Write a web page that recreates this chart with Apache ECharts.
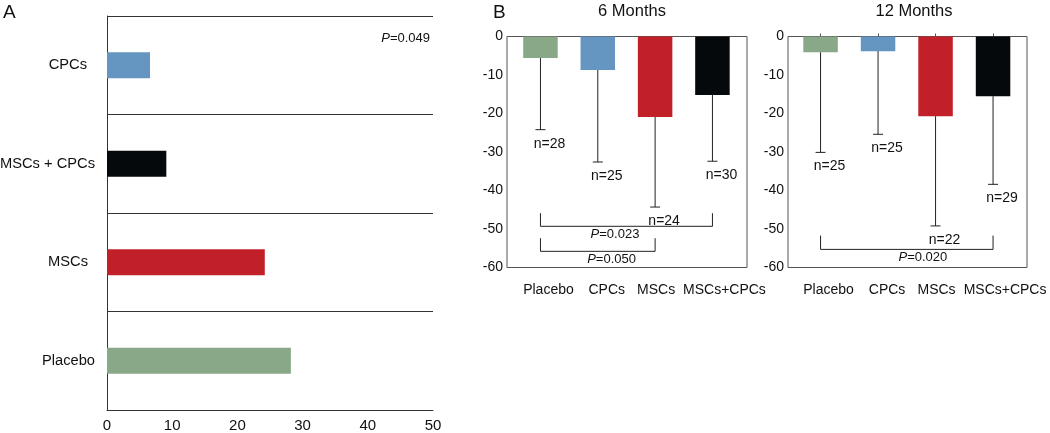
<!DOCTYPE html>
<html>
<head>
<meta charset="utf-8">
<script src="https://cdn.jsdelivr.net/npm/echarts@6/dist/echarts.min.js"></script>
<style>html,body{margin:0;padding:0;background:#fff}#c{width:1050px;height:433px}</style>
</head>
<body>
<div id="c"></div>
<script>
// ---------- DATA ----------
// Panel A (horizontal bars, bottom to top)
const catsA = ['Placebo', 'MSCs', 'MSCs + CPCs', 'CPCs'];
const valsA = [28.2, 24.2, 9.1, 6.6];
const ticksA = [0, 10, 20, 30, 40, 50];
const pA = '0.049';

// Panel B groups
const groupsB = ['Placebo', 'CPCs', 'MSCs', 'MSCs+CPCs'];
// 6 months
const mean6 = [-5.6, -8.7, -20.9, -15.2];
const sd6 = [18.6, 23.9, 23.4, 17.2];
const n6 = [28, 25, 24, 30];
// 12 months
const mean12 = [-4.1, -3.8, -20.7, -15.5];
const sd12 = [26.0, 21.6, 28.5, 22.9];
const n12 = [25, 25, 22, 29];
const ticksB = [0, -10, -20, -30, -40, -50, -60];

// significance brackets: group indices, bracket level, tick top, p-value, label position (data units)
const brackets6 = [
  { from: 0, to: 3, level: -49.3, top: -45.9, p: '0.023', lx: 1.30, ly: -51.4 },
  { from: 0, to: 2, level: -55.8, top: -52.4, p: '0.050', lx: 1.24, ly: -57.9 }
];
const brackets12 = [
  { from: 0, to: 3, level: -55.3, top: -51.7, p: '0.020', lx: 1.78, ly: -57.5 }
];

// ---------- STYLE ----------
const colorMap = {
  'Placebo': '#88a888',
  'CPCs': '#6596c1',
  'MSCs': '#c12029',
  'MSCs + CPCs': '#05090c',
  'MSCs+CPCs': '#05090c'
};
const FONT = '"Liberation Sans", Arial, sans-serif';
const TXT = '#111';
const LINE = '#333';
// label nudges (px) to mimic the reference's label placement
const padB = [16, 18, 2, 24];
const padA = [0, 7, 0, 8];

const chart = echarts.init(document.getElementById('c'), null, { renderer: 'canvas' });

function errRender(means, sds, ns) {
  return function (params, api) {
    const i = params.dataIndex;
    const m = means[i];
    const lo = m - sds[i];
    const p0 = api.coord([i, m]);
    const p1 = api.coord([i, lo]);
    return {
      type: 'group',
      children: [
        { type: 'line', shape: { x1: p0[0], y1: p0[1], x2: p1[0], y2: p1[1] }, style: { stroke: '#222', lineWidth: 1 } },
        { type: 'line', shape: { x1: p1[0] - 5, y1: p1[1], x2: p1[0] + 5, y2: p1[1] }, style: { stroke: '#222', lineWidth: 1 } },
        { type: 'text', x: p1[0] + 9, y: p1[1] + 14,
          style: { text: 'n=' + ns[i], fill: TXT, font: '14px ' + FONT, align: 'center', verticalAlign: 'middle' } }
      ]
    };
  };
}

function bracketRender(list) {
  return function (params, api) {
    const b = list[params.dataIndex];
    const a = api.coord([b.from, b.level]);
    const c = api.coord([b.to, b.level]);
    const at = api.coord([b.from, b.top]);
    const ct = api.coord([b.to, b.top]);
    const l = api.coord([b.lx, b.ly]);
    return {
      type: 'group',
      children: [
        { type: 'polyline', shape: { points: [[at[0], at[1]], [a[0], a[1]], [c[0], c[1]], [ct[0], ct[1]]] },
          style: { stroke: '#222', lineWidth: 1, fill: null } },
        { type: 'text', x: l[0], y: l[1],
          style: { text: '{i|P}=' + b.p, fill: TXT, font: '13px ' + FONT, align: 'center', verticalAlign: 'middle',
            rich: { i: { fontStyle: 'italic', fontSize: 13, fontFamily: FONT, fill: TXT } } } }
      ]
    };
  };
}

// geometry
const gA = { left: 107, top: 16, width: 326, height: 394 };
const f6 = { left: 507, top: 36.5, width: 240, height: 231 };
const d6 = { left: 511.8, top: 36.5, width: 229.3, height: 231 };
const f12 = { left: 788, top: 36.5, width: 239, height: 231 };
const d12 = { left: 791.8, top: 36.5, width: 230, height: 231 };

function frameY(gi) {
  return {
    type: 'value', gridIndex: gi, min: -60, max: 0, interval: 10,
    axisLine: { show: false }, axisTick: { show: false }, splitLine: { show: false },
    axisLabel: { color: TXT, fontSize: 14, fontFamily: FONT, margin: 4 }
  };
}
function hiddenY(gi) {
  return { type: 'value', gridIndex: gi, min: -60, max: 0, show: false };
}
const richB = {};
padB.forEach((p, i) => { richB['p' + i] = { fontSize: 14, fontFamily: FONT, color: TXT, padding: [0, 0, 0, p] }; });
const richA = {};
padA.forEach((p, i) => { richA['a' + i] = { fontSize: 14.7, fontFamily: FONT, color: TXT, padding: [0, p, 0, 0] }; });

function catX(gi, ticks) {
  return {
    type: 'category', gridIndex: gi, data: groupsB, boundaryGap: true,
    axisLine: { show: false },
    axisTick: { show: ticks, inside: true, alignWithLabel: true, length: 3, lineStyle: { color: '#555' } },
    splitLine: { show: false },
    axisLabel: { color: TXT, fontSize: 14, fontFamily: FONT, margin: 16, interval: 0,
      formatter: (v, i) => '{p' + i + '|' + v + '}', rich: richB }
  };
}
const gBase = { containLabel: false, outerBoundsMode: 'none' };
const frameStyle = { show: true, borderColor: '#555', borderWidth: 1, backgroundColor: 'transparent' };

const option = {
  animation: false,
  textStyle: { fontFamily: FONT },
  grid: [
    Object.assign({}, gBase, gA),
    Object.assign({}, gBase, frameStyle, f6),
    Object.assign({}, gBase, d6),
    Object.assign({}, gBase, frameStyle, f12),
    Object.assign({}, gBase, d12)
  ],
  xAxis: [
    { type: 'value', gridIndex: 0, min: ticksA[0], max: ticksA[ticksA.length - 1], interval: 10,
      axisLine: { show: true, lineStyle: { color: LINE } }, axisTick: { show: false }, splitLine: { show: false },
      axisLabel: { color: TXT, fontSize: 15, fontFamily: FONT, margin: 8 } },
    { type: 'value', gridIndex: 1, min: 0, max: 1, show: false },
    catX(2, false),
    { type: 'value', gridIndex: 2, min: -0.5, max: 3.5, show: false },
    { type: 'value', gridIndex: 3, min: 0, max: 1, show: false },
    catX(4, true),
    { type: 'value', gridIndex: 4, min: -0.5, max: 3.5, show: false }
  ],
  yAxis: [
    { type: 'category', gridIndex: 0, data: catsA, boundaryGap: true,
      axisLine: { show: true, lineStyle: { color: LINE } }, axisTick: { show: false },
      splitLine: { show: true, lineStyle: { color: LINE, width: 1 } },
      axisLabel: { color: TXT, fontSize: 14.7, fontFamily: FONT, margin: 12,
        formatter: (v, i) => '{a' + i + '|' + v + '}', rich: richA } },
    frameY(1),
    hiddenY(2),
    frameY(3),
    hiddenY(4)
  ],
  series: [
    { type: 'bar', xAxisIndex: 0, yAxisIndex: 0, barWidth: 26,
      data: valsA.map((v, i) => ({ value: v, itemStyle: { color: colorMap[catsA[i]] } })) },
    { type: 'bar', xAxisIndex: 2, yAxisIndex: 2, barWidth: 34.5,
      data: mean6.map((v, i) => ({ value: v, itemStyle: { color: colorMap[groupsB[i]] } })) },
    { type: 'custom', xAxisIndex: 3, yAxisIndex: 2, clip: false, z: 5,
      renderItem: errRender(mean6, sd6, n6),
      data: mean6.map((v, i) => [i, v, v - sd6[i]]) },
    { type: 'custom', xAxisIndex: 3, yAxisIndex: 2, clip: false, z: 5,
      renderItem: bracketRender(brackets6),
      data: brackets6.map(b => [b.from, b.level]) },
    { type: 'bar', xAxisIndex: 5, yAxisIndex: 4, barWidth: 34.5,
      data: mean12.map((v, i) => ({ value: v, itemStyle: { color: colorMap[groupsB[i]] } })) },
    { type: 'custom', xAxisIndex: 6, yAxisIndex: 4, clip: false, z: 5,
      renderItem: errRender(mean12, sd12, n12),
      data: mean12.map((v, i) => [i, v, v - sd12[i]]) },
    { type: 'custom', xAxisIndex: 6, yAxisIndex: 4, clip: false, z: 5,
      renderItem: bracketRender(brackets12),
      data: brackets12.map(b => [b.from, b.level]) }
  ],
  graphic: [
    { type: 'text', left: 3, top: 3, style: { text: 'A', fill: TXT, font: '19px ' + FONT } },
    { type: 'text', left: 493, top: 3, style: { text: 'B', fill: TXT, font: '19px ' + FONT } },
    { type: 'text', x: 632, y: 11, style: { text: '6 Months', fill: TXT, font: '16.5px ' + FONT, align: 'center', verticalAlign: 'middle' } },
    { type: 'text', x: 914, y: 11, style: { text: '12 Months', fill: TXT, font: '16.5px ' + FONT, align: 'center', verticalAlign: 'middle' } },
    { type: 'text', x: 430, y: 38, style: { text: '{i|P}=' + pA, fill: TXT, font: '13px ' + FONT, align: 'right', verticalAlign: 'middle',
      rich: { i: { fontStyle: 'italic', fontSize: 13, fontFamily: FONT } } } }
  ]
};
chart.setOption(option);
</script>
</body>
</html>
